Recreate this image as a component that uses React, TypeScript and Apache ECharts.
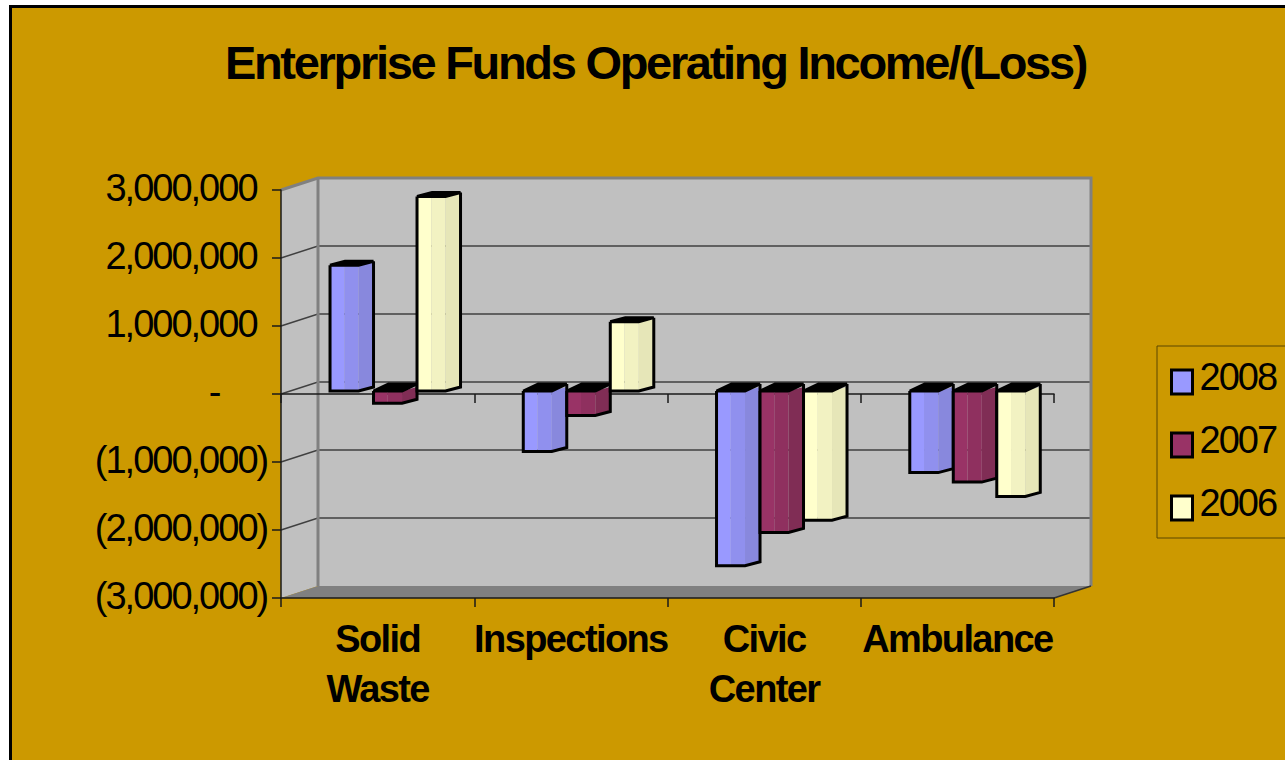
import React, { useEffect, useRef } from "react";
import * as echarts from "echarts";

const titleText = "Enterprise Funds Operating Income/(Loss)";
const categories = ["Solid\nWaste", "Inspections", "Civic\nCenter", "Ambulance"];
const years = ["2008", "2007", "2006"];
const values2008 = [1850000, -890000, -2570000, -1200000];
const values2007 = [-180000, -360000, -2080000, -1340000];
const values2006 = [2860000, 1020000, -1900000, -1550000];
const yTicks = [-3000000, -2000000, -1000000, 0, 1000000, 2000000, 3000000];

const seriesValues = [values2008, values2007, values2006];
const faceColors = [
  ["#9999FF", "#9090EE", "#8888DD"],
  ["#993366", "#8F305F", "#802D55"],
  ["#FFFFCC", "#F2F2C2", "#E6E6B8"],
];

const WALL_DX = 37;
const WALL_DY = -12;
const BAR_DX = 15;
const BAR_DY = -4;
const FACE_W = 28.5;
const STRIDE = 43.5;
const GROUP_SHIFT = -47.6;
const BASE_SHIFT = -3;

function fmt(v: number) {
  if (v === 0) return "{d|-}";
  const s = Math.abs(v).toLocaleString("en-US");
  return v < 0 ? `(${s})` : s;
}

function renderWalls(_p: any, api: any) {
  const tl = api.coord([0, 3000000]);
  const y0 = tl[1];
  const y1 = api.coord([0, -3000000])[1];
  const x0 = 281;
  const x1 = 1054;
  const wall = "#C0C0C0";
  const children: any[] = [
    { type: "polygon", shape: { points: [[x0, y0], [x0 + WALL_DX, y0 + WALL_DY], [x0 + WALL_DX, y1 + WALL_DY], [x0, y1]] }, style: { fill: wall } },
    { type: "rect", shape: { x: x0 + WALL_DX, y: y0 + WALL_DY, width: x1 - x0, height: y1 - y0 }, style: { fill: wall } },
    { type: "polygon", shape: { points: [[x0, y1], [x0 + WALL_DX, y1 + WALL_DY], [x1 + WALL_DX, y1 + WALL_DY], [x1, y1]] }, style: { fill: "#808080" } },
  ];
  yTicks.slice(1, 6).forEach((t) => {
    const y = api.coord([0, t])[1];
    children.push({ type: "polyline", shape: { points: [[x0, y], [x0 + WALL_DX, y + WALL_DY], [x1 + WALL_DX, y + WALL_DY]] }, style: { fill: "none", stroke: "#404040", lineWidth: 1.5 } });
  });
  children.push(
    { type: "polyline", shape: { points: [[x0, y0], [x0 + WALL_DX, y0 + WALL_DY], [x1 + WALL_DX, y0 + WALL_DY], [x1 + WALL_DX, y1 + WALL_DY]] }, style: { fill: "none", stroke: "#808080", lineWidth: 3 } },
    { type: "line", shape: { x1: x0 + WALL_DX, y1: y0 + WALL_DY, x2: x0 + WALL_DX, y2: y1 + WALL_DY }, style: { stroke: "#808080", lineWidth: 3 } },
    { type: "line", shape: { x1: x1, y1: y1, x2: x1 + WALL_DX, y2: y1 + WALL_DY }, style: { stroke: "#333333", lineWidth: 1.5 } },
  );
  return { type: "group", children };
}

function renderBar(p: any, api: any) {
  const idx = p.seriesIndex - 1;
  const cat = api.value(0);
  const val = api.value(1);
  const cx = api.coord([cat, 0])[0];
  const x0 = cx + GROUP_SHIFT + idx * STRIDE;
  const x1 = x0 + FACE_W;
  const zero = api.coord([cat, 0])[1] + BASE_SHIFT;
  const end = api.coord([cat, val])[1] + BASE_SHIFT;
  const yt = Math.min(zero, end);
  const yb = Math.max(zero, end);
  const capRise = val < 0 ? BAR_DY - 3 : BAR_DY;
  const c = faceColors[idx];
  const s = { stroke: "#000000", lineWidth: 3, lineJoin: "miter" };
  return {
    type: "group",
    children: [
      { type: "rect", shape: { x: x0, y: yt, width: FACE_W / 2, height: yb - yt }, style: { fill: c[0] } },
      { type: "rect", shape: { x: x0 + FACE_W / 2, y: yt, width: FACE_W / 2, height: yb - yt }, style: { fill: c[1] } },
      { type: "polygon", shape: { points: [[x1, yt], [x1 + BAR_DX, yt + BAR_DY], [x1 + BAR_DX, yb + BAR_DY], [x1, yb]] }, style: { fill: c[2] } },
      { type: "polygon", shape: { points: [[x0, yt], [x0 + BAR_DX, yt + capRise], [x1 + BAR_DX, yt + capRise], [x1, yt]] }, style: { fill: "#000000", ...s } },
      { type: "polyline", shape: { points: [[x0, yt], [x0, yb], [x1, yb], [x1 + BAR_DX, yb + BAR_DY], [x1 + BAR_DX, yt + capRise]] }, style: { fill: "none", ...s } },
    ],
  };
}

export default function App() {
  const ref = useRef<HTMLDivElement>(null);
  useEffect(() => {
    document.body.style.margin = "0";
    document.body.style.overflow = "hidden";
    const chart = echarts.init(ref.current!, undefined, { renderer: "svg" });
    const axisColor = "#1a1a1a";
    chart.setOption({
      animation: false,
      backgroundColor: "transparent",
      textStyle: { fontFamily: "Liberation Sans" },
      title: {
        text: titleText,
        left: 650.5,
        top: 34,
        textAlign: "center",
        textStyle: { fontFamily: "Liberation Sans", fontSize: 47, fontWeight: "bold", color: "#000000" },
      },
      legend: {
        left: 1157,
        top: 346,
        orient: "vertical",
        padding: [12, 30, 16, 13],
        borderColor: "#5A4600",
        borderWidth: 1,
        backgroundColor: "transparent",
        itemWidth: 21,
        itemHeight: 24,
        itemGap: 25,
        selectedMode: false,
        formatter: "{a|{name}}",
        textStyle: {
          fontFamily: "Liberation Sans",
          fontSize: 38,
          color: "#000000",
          rich: { a: { fontFamily: "Liberation Sans", fontSize: 38, color: "#000000", padding: [0, 0, 10, 2] } },
        },
        data: years.map((y, i) => ({ name: y, icon: "rect", itemStyle: { color: faceColors[i][0], borderColor: "#000000", borderWidth: 3 } })),
      },
      grid: { left: 281, top: 190, width: 773, height: 408 },
      xAxis: [
        {
          type: "category",
          position: "bottom",
          data: categories,
          axisLine: { onZero: false, lineStyle: { color: axisColor, width: 1.5 } },
          axisTick: { show: true, length: 9, alignWithLabel: false, lineStyle: { color: axisColor, width: 1.5 } },
          axisLabel: { interval: 0, margin: 16, fontFamily: "Liberation Sans", fontSize: 38, fontWeight: "bold", color: "#000000", lineHeight: 50 },
          splitLine: { show: false },
        },
        {
          type: "category",
          position: "top",
          data: categories,
          axisLine: { onZero: true, onZeroAxisIndex: 0, lineStyle: { color: axisColor, width: 1.5 } },
          axisTick: { show: true, inside: true, length: 9, lineStyle: { color: axisColor, width: 1.5 } },
          axisLabel: { show: false },
          splitLine: { show: false },
        },
      ],
      yAxis: {
        type: "value",
        min: -3000000,
        max: 3000000,
        interval: 1000000,
        axisLine: { show: true, lineStyle: { color: axisColor, width: 1.5 } },
        axisTick: { show: true, length: 9, lineStyle: { color: axisColor, width: 1.5 } },
        axisLabel: {
          align: "center",
          margin: 100,
          fontFamily: "Liberation Sans",
          fontSize: 38,
          color: "#000000",
          padding: [0, 0, 4, 0],
          formatter: (v: number) => fmt(v),
          rich: { d: { fontFamily: "Liberation Sans", fontSize: 38, color: "#000000", padding: [0, 0, 0, 66] } },
        },
        splitLine: { show: false },
      },
      series: [
        {
          type: "custom",
          name: "walls",
          z: -1,
          silent: true,
          clip: false,
          renderItem: renderWalls,
          data: [[0, 0]],
          encode: { x: 0, y: 1 },
        },
        ...years.map((y, i) => ({
          type: "custom",
          name: y,
          z: 2,
          clip: false,
          renderItem: renderBar,
          itemStyle: { color: faceColors[i][0] },
          data: seriesValues[i].map((v, c) => [c, v]),
          encode: { x: 0, y: 1 },
        })),
      ],
    });
    const tighten = () => {
      ref.current?.querySelectorAll("text").forEach((t) => {
        const label = (t.textContent || "").trim();
        if (label === titleText) (t as any).style.letterSpacing = "-2.3px";
        else if (categories.join("\n").split("\n").includes(label)) (t as any).style.letterSpacing = "-1.6px";
      });
    };
    tighten();
    chart.on("finished", tighten);
    return () => chart.dispose();
  }, []);
  return (
    <div style={{ position: "fixed", left: 0, top: 0, width: 1285, height: 760, background: "#FFFFFF", overflow: "hidden" }}>
      <div style={{ position: "absolute", left: 9, top: 5, width: 1300, height: 800, border: "3px solid #000000", background: "#CC9900" }} />
      <div ref={ref} style={{ position: "absolute", left: 0, top: 0, width: 1285, height: 760, letterSpacing: "-2px" }} />
    </div>
  );
}
